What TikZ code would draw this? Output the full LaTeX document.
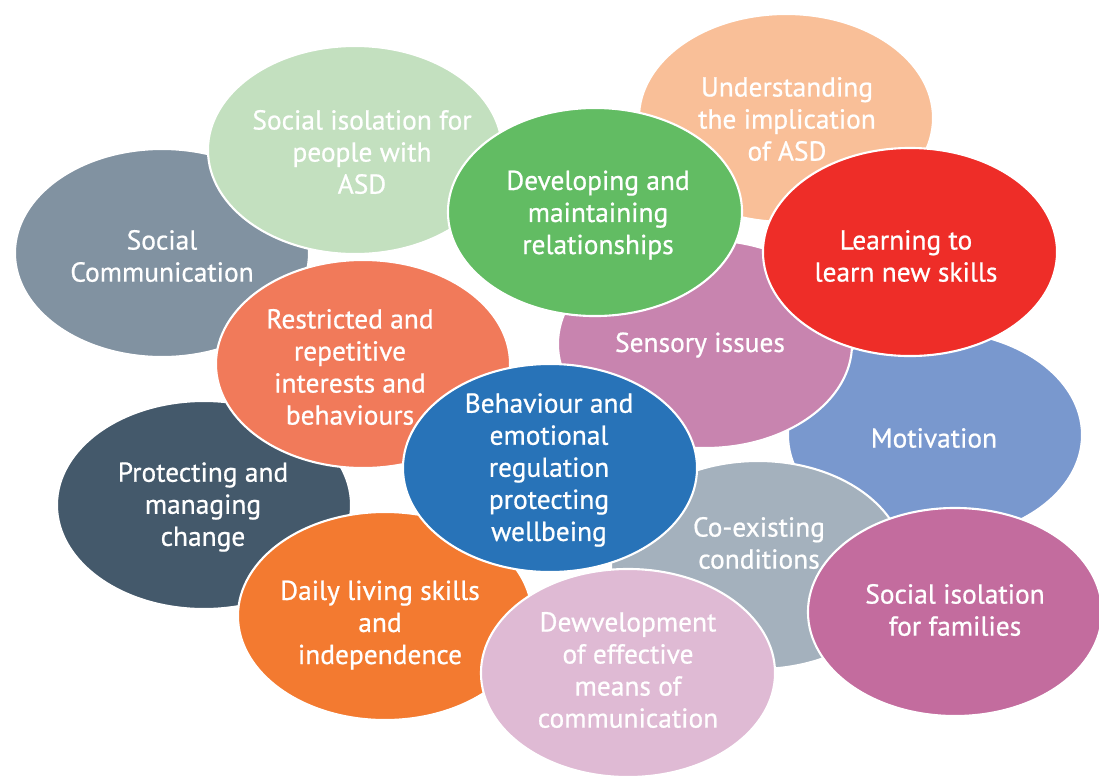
\documentclass[tikz,border=0pt]{standalone}
\usepackage{fontspec}
\setmainfont{PT Sans}
\newfontfamily\bubblefont[FakeBold=0.7]{PT Sans}
\usetikzlibrary{positioning}

\definecolor{CommColor}{HTML}{8192A1}
\definecolor{IsoAsdColor}{HTML}{C3E0BF}
\definecolor{UnderColor}{HTML}{F9BF98}
\definecolor{MotivColor}{HTML}{7998CE}
\definecolor{SensColor}{HTML}{C884AF}
\definecolor{DevColor}{HTML}{62BC63}
\definecolor{LearnColor}{HTML}{EE2D28}
\definecolor{ProtColor}{HTML}{44596B}
\definecolor{RestrColor}{HTML}{F17A5A}
\definecolor{CoexColor}{HTML}{A4B1BD}
\definecolor{DailyColor}{HTML}{F37A30}
\definecolor{BehavColor}{HTML}{2873B8}
\definecolor{IsoFamColor}{HTML}{C36C9E}
\definecolor{DewvColor}{HTML}{DFBAD4}

\tikzset{
  bubble/.style={draw=white, line width=1.5pt},
  bubbletext/.style={white, align=center, font=\bubblefont\fontsize{19.5}{22.8}\selectfont}
}

\begin{document}
\begin{tikzpicture}[x=0.025cm, y=-0.025cm]
  \def \ELen {3.675cm};
  \def \EHight {2.6cm};

  \useasboundingbox (0,0) rectangle (1099,777);

  \draw [bubble, fill=CommColor] (162,253) ellipse ({\ELen} and {\EHight});
  \node[bubbletext] (comm) at (162,256) {Social\\Communication};

  \draw [bubble, fill=IsoAsdColor] (355,150) ellipse ({\ELen} and {\EHight});
  \node[bubbletext] (isoasd) at (362,152) {Social isolation for\\people with\\ASD};

  \draw [bubble, fill=UnderColor] (786,118) ellipse ({\ELen} and {\EHight});
  \node[bubbletext] (under) at (787,119) {Understanding\\the implication\\of ASD};

  \draw [bubble, fill=MotivColor] (935,435) ellipse ({\ELen} and {\EHight});
  \node[bubbletext] (motiv) at (934,438) {Motivation};

  \draw [bubble, fill=SensColor] (705,344) ellipse ({\ELen} and {\EHight});
  \node[bubbletext] (sens) at (700,345) {Sensory issues};

  \draw [bubble, fill=DevColor] (595,212) ellipse ({\ELen} and {\EHight});
  \node[bubbletext] (dev) at (598,215) {Developing and\\maintaining\\relationships};

  \draw [bubble, fill=LearnColor] (910,252) ellipse ({\ELen} and {\EHight});
  \node[bubbletext] (learn) at (906,256) {Learning to\\learn new skills};

  \draw [bubble, fill=ProtColor] (204,505) ellipse ({\ELen} and {\EHight});
  \node[bubbletext] (prot) at (203,507) {Protecting and\\managing\\change};

  \draw [bubble, fill=RestrColor] (363,364) ellipse ({\ELen} and {\EHight});
  \node[bubbletext] (restr) at (350,367) {Restricted and\\repetitive\\interests and\\behaviours};

  \draw [bubble, fill=CoexColor] (758,565) ellipse ({\ELen} and {\EHight});
  \node[bubbletext] (coex) at (759,543) {Co-existing\\conditions};

  \draw [bubble, fill=DailyColor] (385,616) ellipse ({\ELen} and {\EHight});
  \node[bubbletext] (daily) at (380,625) {Daily living skills\\and\\independence};

  \draw [bubble, fill=BehavColor] (550,468) ellipse ({\ELen} and {\EHight});
  \node[bubbletext] (behav) at (549,470) {Behaviour and\\emotional\\regulation\\protecting\\wellbeing};

  \draw [bubble, fill=IsoFamColor] (955,612) ellipse ({\ELen} and {\EHight});
  \node[bubbletext] (isofam) at (955,610) {Social isolation\\for families};

  \draw [bubble, fill=DewvColor] (628,673) ellipse ({\ELen} and {\EHight});
  \node[bubbletext] (dewv) at (628,670) {Dewvelopment\\of effective\\means of\\communication};
\end{tikzpicture}
\end{document}
